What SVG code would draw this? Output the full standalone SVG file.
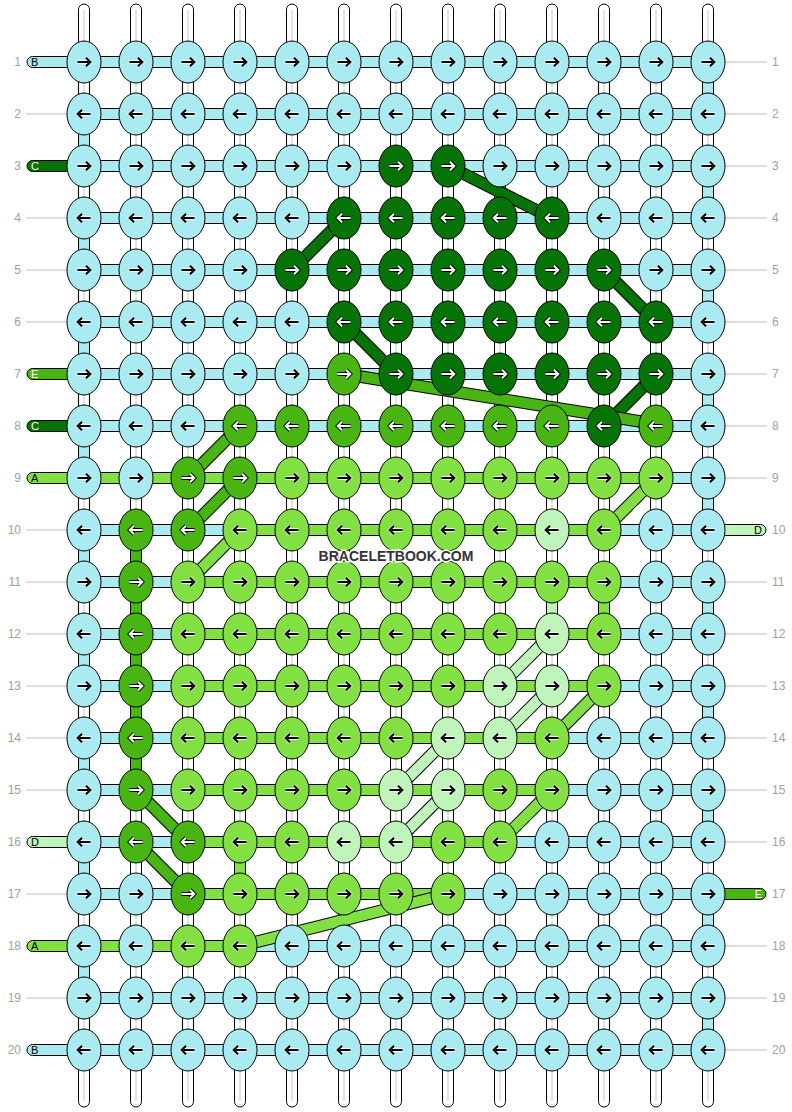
<svg xmlns="http://www.w3.org/2000/svg" xmlns:xlink="http://www.w3.org/1999/xlink" width="792" height="1112" viewBox="0 0 792 1112">
<style>
.sB{fill:#aaebf2;stroke:#000;stroke-width:1}
.sC{fill:#067306;stroke:#000;stroke-width:1}
.sE{fill:#48b512;stroke:#000;stroke-width:1}
.sA{fill:#83e043;stroke:#000;stroke-width:1}
.sD{fill:#bff5ba;stroke:#000;stroke-width:1}
.tube{fill:#fff;stroke:#000;stroke-width:1}
.rail{stroke:#c8c8c8;stroke-width:1;fill:none}
.o{stroke:#000;stroke-width:12.5}
.rC{stroke:#067306;stroke-width:10.5}
.rE{stroke:#48b512;stroke-width:10.5}
.rA{stroke:#83e043;stroke-width:10.5}
.rD{stroke:#bff5ba;stroke-width:10.5}
.hw{fill:none;stroke:#fff;stroke-width:3.4}
.ak{fill:none;stroke:#000;stroke-width:2.2}
.hk{fill:none;stroke:#000;stroke-width:3.8}
.aw{fill:none;stroke:#fff;stroke-width:2}
.gl{stroke:#bbb;stroke-width:1}
.num{font-family:"Liberation Sans",Arial,sans-serif;font-size:12px;fill:#a0a0a0}
.lt{font-family:"Liberation Sans",Arial,sans-serif;font-size:11px;fill:#000}
.ltw{font-family:"Liberation Sans",Arial,sans-serif;font-size:11px;fill:#fff}
.wm{font-family:"Liberation Sans",Arial,sans-serif;font-size:14px;font-weight:bold;fill:#333;stroke:#fff;stroke-width:3;paint-order:stroke}
</style>
<defs>
<path id="aR" d="M-6.5,0H5.8M2,-4.3L6.3,0L2,4.3"/>
<path id="aL" d="M6.5,0H-5.8M-2,-4.3L-6.3,0L-2,4.3"/>
<g id="BR"><ellipse class="sB" rx="17" ry="21"/><use href="#aR" class="hw"/><use href="#aR" class="ak"/></g>
<g id="BL"><ellipse class="sB" rx="17" ry="21"/><use href="#aL" class="hw"/><use href="#aL" class="ak"/></g>
<g id="AR"><ellipse class="sA" rx="17" ry="21"/><use href="#aR" class="hw"/><use href="#aR" class="ak"/></g>
<g id="AL"><ellipse class="sA" rx="17" ry="21"/><use href="#aL" class="hw"/><use href="#aL" class="ak"/></g>
<g id="DR"><ellipse class="sD" rx="17" ry="21"/><use href="#aR" class="hw"/><use href="#aR" class="ak"/></g>
<g id="DL"><ellipse class="sD" rx="17" ry="21"/><use href="#aL" class="hw"/><use href="#aL" class="ak"/></g>
<g id="CR"><ellipse class="sC" rx="17" ry="21"/><use href="#aR" class="hk"/><use href="#aR" class="aw"/></g>
<g id="CL"><ellipse class="sC" rx="17" ry="21"/><use href="#aL" class="hk"/><use href="#aL" class="aw"/></g>
<g id="ER"><ellipse class="sE" rx="17" ry="21"/><use href="#aR" class="hk"/><use href="#aR" class="aw"/></g>
<g id="EL"><ellipse class="sE" rx="17" ry="21"/><use href="#aL" class="hk"/><use href="#aL" class="aw"/></g>
</defs>
<rect width="792" height="1112" fill="#fff"/>
<g id="connectors">
<g id="tubes">
<rect class="tube" x="78.5" y="4" width="11" height="1103" rx="5.5"/><line class="rail" x1="84" y1="10" x2="84" y2="1101"/>
<rect class="tube" x="130.5" y="4" width="11" height="1103" rx="5.5"/><line class="rail" x1="136" y1="10" x2="136" y2="1101"/>
<rect class="tube" x="182.5" y="4" width="11" height="1103" rx="5.5"/><line class="rail" x1="188" y1="10" x2="188" y2="1101"/>
<rect class="tube" x="234.5" y="4" width="11" height="1103" rx="5.5"/><line class="rail" x1="240" y1="10" x2="240" y2="1101"/>
<rect class="tube" x="286.5" y="4" width="11" height="1103" rx="5.5"/><line class="rail" x1="292" y1="10" x2="292" y2="1101"/>
<rect class="tube" x="338.5" y="4" width="11" height="1103" rx="5.5"/><line class="rail" x1="344" y1="10" x2="344" y2="1101"/>
<rect class="tube" x="390.5" y="4" width="11" height="1103" rx="5.5"/><line class="rail" x1="396" y1="10" x2="396" y2="1101"/>
<rect class="tube" x="442.5" y="4" width="11" height="1103" rx="5.5"/><line class="rail" x1="448" y1="10" x2="448" y2="1101"/>
<rect class="tube" x="494.5" y="4" width="11" height="1103" rx="5.5"/><line class="rail" x1="500" y1="10" x2="500" y2="1101"/>
<rect class="tube" x="546.5" y="4" width="11" height="1103" rx="5.5"/><line class="rail" x1="552" y1="10" x2="552" y2="1101"/>
<rect class="tube" x="598.5" y="4" width="11" height="1103" rx="5.5"/><line class="rail" x1="604" y1="10" x2="604" y2="1101"/>
<rect class="tube" x="650.5" y="4" width="11" height="1103" rx="5.5"/><line class="rail" x1="656" y1="10" x2="656" y2="1101"/>
<rect class="tube" x="702.5" y="4" width="11" height="1103" rx="5.5"/><line class="rail" x1="708" y1="10" x2="708" y2="1101"/>
</g>
<g id="verticals">
<rect class="sB" x="78.5" y="114" width="11" height="52"/>
<rect class="sB" x="78.5" y="218" width="11" height="52"/>
<rect class="sB" x="78.5" y="322" width="11" height="52"/>
<rect class="sB" x="78.5" y="426" width="11" height="52"/>
<rect class="sB" x="78.5" y="530" width="11" height="52"/>
<rect class="sB" x="78.5" y="634" width="11" height="52"/>
<rect class="sB" x="78.5" y="738" width="11" height="52"/>
<rect class="sB" x="78.5" y="842" width="11" height="52"/>
<rect class="sB" x="78.5" y="946" width="11" height="52"/>
<rect class="sB" x="702.5" y="62" width="11" height="52"/>
<rect class="sB" x="702.5" y="166" width="11" height="52"/>
<rect class="sB" x="702.5" y="270" width="11" height="52"/>
<rect class="sB" x="702.5" y="374" width="11" height="52"/>
<rect class="sB" x="702.5" y="478" width="11" height="52"/>
<rect class="sB" x="702.5" y="582" width="11" height="52"/>
<rect class="sB" x="702.5" y="686" width="11" height="52"/>
<rect class="sB" x="702.5" y="790" width="11" height="52"/>
<rect class="sB" x="702.5" y="894" width="11" height="52"/>
<rect class="sB" x="702.5" y="998" width="11" height="52"/>
<rect class="sE" x="130.5" y="530" width="11" height="260"/>
<rect class="sD" x="546.5" y="582" width="11" height="52"/>
<rect class="sA" x="598.5" y="582" width="11" height="52"/>
<rect class="sA" x="234.5" y="842" width="11" height="52"/>
</g>
<g id="inputs">
<rect class="sB" x="27" y="56.5" width="60" height="11" rx="5.5"/>
<rect class="sC" x="27" y="160.5" width="60" height="11" rx="5.5"/>
<rect class="sE" x="27" y="368.5" width="60" height="11" rx="5.5"/>
<rect class="sC" x="27" y="420.5" width="60" height="11" rx="5.5"/>
<rect class="sA" x="27" y="472.5" width="60" height="11" rx="5.5"/>
<rect class="sD" x="27" y="836.5" width="60" height="11" rx="5.5"/>
<rect class="sA" x="27" y="940.5" width="60" height="11" rx="5.5"/>
<rect class="sB" x="27" y="1044.5" width="60" height="11" rx="5.5"/>
<rect class="sD" x="705" y="524.5" width="61" height="11" rx="5.5"/>
<rect class="sE" x="705" y="888.5" width="61" height="11" rx="5.5"/>
</g>
<g id="rows">
<rect class="sB" x="84" y="56.5" width="624" height="11"/>
<rect class="sB" x="84" y="108.5" width="624" height="11"/>
<rect class="sB" x="84" y="160.5" width="624" height="11"/>
<rect class="sB" x="84" y="212.5" width="624" height="11"/>
<rect class="sB" x="84" y="264.5" width="624" height="11"/>
<rect class="sB" x="84" y="316.5" width="624" height="11"/>
<rect class="sB" x="84" y="368.5" width="624" height="11"/>
<rect class="sB" x="84" y="420.5" width="624" height="11"/>
<rect class="sB" x="84" y="472.5" width="624" height="11"/>
<rect class="sB" x="84" y="524.5" width="624" height="11"/>
<rect class="sB" x="84" y="576.5" width="624" height="11"/>
<rect class="sB" x="84" y="628.5" width="624" height="11"/>
<rect class="sB" x="84" y="680.5" width="624" height="11"/>
<rect class="sB" x="84" y="732.5" width="624" height="11"/>
<rect class="sB" x="84" y="784.5" width="624" height="11"/>
<rect class="sB" x="84" y="836.5" width="624" height="11"/>
<rect class="sB" x="84" y="888.5" width="624" height="11"/>
<rect class="sB" x="84" y="940.5" width="624" height="11"/>
<rect class="sB" x="84" y="992.5" width="624" height="11"/>
<rect class="sB" x="84" y="1044.5" width="624" height="11"/>
<rect class="sA" x="84" y="472.5" width="572" height="11"/>
<rect class="sA" x="240" y="524.5" width="364" height="11"/>
<rect class="sA" x="188" y="576.5" width="416" height="11"/>
<rect class="sA" x="188" y="628.5" width="416" height="11"/>
<rect class="sA" x="188" y="680.5" width="416" height="11"/>
<rect class="sA" x="188" y="732.5" width="364" height="11"/>
<rect class="sA" x="188" y="784.5" width="364" height="11"/>
<rect class="sA" x="188" y="836.5" width="312" height="11"/>
<rect class="sA" x="188" y="888.5" width="260" height="11"/>
<rect class="sA" x="84" y="940.5" width="156" height="11"/>
</g>
<g id="ribbons">
<line class="o" x1="448" y1="166" x2="552" y2="218"/><line class="rC" x1="448" y1="166" x2="552" y2="218"/>
<line class="o" x1="344" y1="218" x2="292" y2="270"/><line class="rC" x1="344" y1="218" x2="292" y2="270"/>
<line class="o" x1="604" y1="270" x2="656" y2="322"/><line class="rC" x1="604" y1="270" x2="656" y2="322"/>
<line class="o" x1="344" y1="322" x2="396" y2="374"/><line class="rC" x1="344" y1="322" x2="396" y2="374"/>
<line class="o" x1="656" y1="374" x2="604" y2="426"/><line class="rC" x1="656" y1="374" x2="604" y2="426"/>
<line class="o" x1="344" y1="374" x2="656" y2="424"/><line class="rE" x1="344" y1="374" x2="656" y2="424"/>
<line class="o" x1="240" y1="426" x2="188" y2="478"/><line class="rE" x1="240" y1="426" x2="188" y2="478"/>
<line class="o" x1="240" y1="478" x2="188" y2="530"/><line class="rE" x1="240" y1="478" x2="188" y2="530"/>
<line class="o" x1="240" y1="530" x2="188" y2="582"/><line class="rA" x1="240" y1="530" x2="188" y2="582"/>
<line class="o" x1="656" y1="478" x2="604" y2="530"/><line class="rA" x1="656" y1="478" x2="604" y2="530"/>
<line class="o" x1="552" y1="634" x2="500" y2="686"/><line class="rD" x1="552" y1="634" x2="500" y2="686"/>
<line class="o" x1="552" y1="686" x2="500" y2="738"/><line class="rD" x1="552" y1="686" x2="500" y2="738"/>
<line class="o" x1="604" y1="686" x2="552" y2="738"/><line class="rA" x1="604" y1="686" x2="552" y2="738"/>
<line class="o" x1="448" y1="738" x2="396" y2="790"/><line class="rD" x1="448" y1="738" x2="396" y2="790"/>
<line class="o" x1="448" y1="790" x2="396" y2="842"/><line class="rD" x1="448" y1="790" x2="396" y2="842"/>
<line class="o" x1="552" y1="790" x2="500" y2="842"/><line class="rA" x1="552" y1="790" x2="500" y2="842"/>
<line class="o" x1="136" y1="790" x2="188" y2="842"/><line class="rE" x1="136" y1="790" x2="188" y2="842"/>
<line class="o" x1="136" y1="842" x2="188" y2="894"/><line class="rE" x1="136" y1="842" x2="188" y2="894"/>
<line class="o" x1="240" y1="946" x2="448" y2="894"/><line class="rA" x1="240" y1="946" x2="448" y2="894"/>
</g>
</g>
<g id="labels">
<line class="gl" x1="26" y1="114" x2="67" y2="114"/>
<line class="gl" x1="26" y1="218" x2="67" y2="218"/>
<line class="gl" x1="26" y1="270" x2="67" y2="270"/>
<line class="gl" x1="26" y1="322" x2="67" y2="322"/>
<line class="gl" x1="26" y1="530" x2="67" y2="530"/>
<line class="gl" x1="26" y1="582" x2="67" y2="582"/>
<line class="gl" x1="26" y1="634" x2="67" y2="634"/>
<line class="gl" x1="26" y1="686" x2="67" y2="686"/>
<line class="gl" x1="26" y1="738" x2="67" y2="738"/>
<line class="gl" x1="26" y1="790" x2="67" y2="790"/>
<line class="gl" x1="26" y1="894" x2="67" y2="894"/>
<line class="gl" x1="26" y1="998" x2="67" y2="998"/>
<line class="gl" x1="725" y1="62" x2="767" y2="62"/>
<line class="gl" x1="725" y1="114" x2="767" y2="114"/>
<line class="gl" x1="725" y1="166" x2="767" y2="166"/>
<line class="gl" x1="725" y1="218" x2="767" y2="218"/>
<line class="gl" x1="725" y1="270" x2="767" y2="270"/>
<line class="gl" x1="725" y1="322" x2="767" y2="322"/>
<line class="gl" x1="725" y1="374" x2="767" y2="374"/>
<line class="gl" x1="725" y1="426" x2="767" y2="426"/>
<line class="gl" x1="725" y1="478" x2="767" y2="478"/>
<line class="gl" x1="725" y1="582" x2="767" y2="582"/>
<line class="gl" x1="725" y1="634" x2="767" y2="634"/>
<line class="gl" x1="725" y1="686" x2="767" y2="686"/>
<line class="gl" x1="725" y1="738" x2="767" y2="738"/>
<line class="gl" x1="725" y1="790" x2="767" y2="790"/>
<line class="gl" x1="725" y1="842" x2="767" y2="842"/>
<line class="gl" x1="725" y1="946" x2="767" y2="946"/>
<line class="gl" x1="725" y1="998" x2="767" y2="998"/>
<line class="gl" x1="725" y1="1050" x2="767" y2="1050"/>
<text class="lt" x="31" y="66">B</text>
<text class="ltw" x="31" y="170">C</text>
<text class="ltw" x="31" y="378">E</text>
<text class="ltw" x="31" y="430">C</text>
<text class="lt" x="31" y="482">A</text>
<text class="lt" x="31" y="846">D</text>
<text class="lt" x="31" y="950">A</text>
<text class="lt" x="31" y="1054">B</text>
<text class="lt" x="762" y="534" text-anchor="end">D</text>
<text class="ltw" x="762" y="898" text-anchor="end">E</text>
<g class="num" text-anchor="end">
<text x="21" y="66">1</text><text x="21" y="118">2</text><text x="21" y="170">3</text><text x="21" y="222">4</text><text x="21" y="274">5</text><text x="21" y="326">6</text><text x="21" y="378">7</text><text x="21" y="430">8</text><text x="21" y="482">9</text><text x="21" y="534">10</text><text x="21" y="586">11</text><text x="21" y="638">12</text><text x="21" y="690">13</text><text x="21" y="742">14</text><text x="21" y="794">15</text><text x="21" y="846">16</text><text x="21" y="898">17</text><text x="21" y="950">18</text><text x="21" y="1002">19</text><text x="21" y="1054">20</text>
</g>
<g class="num">
<text x="772" y="66">1</text><text x="772" y="118">2</text><text x="772" y="170">3</text><text x="772" y="222">4</text><text x="772" y="274">5</text><text x="772" y="326">6</text><text x="772" y="378">7</text><text x="772" y="430">8</text><text x="772" y="482">9</text><text x="772" y="534">10</text><text x="772" y="586">11</text><text x="772" y="638">12</text><text x="772" y="690">13</text><text x="772" y="742">14</text><text x="772" y="794">15</text><text x="772" y="846">16</text><text x="772" y="898">17</text><text x="772" y="950">18</text><text x="772" y="1002">19</text><text x="772" y="1054">20</text>
</g>
</g>
<g id="knots">
<g id="k1_1"><use href="#BR" x="84" y="62"/></g><g id="k1_2"><use href="#BR" x="136" y="62"/></g><g id="k1_3"><use href="#BR" x="188" y="62"/></g><g id="k1_4"><use href="#BR" x="240" y="62"/></g><g id="k1_5"><use href="#BR" x="292" y="62"/></g><g id="k1_6"><use href="#BR" x="344" y="62"/></g><g id="k1_7"><use href="#BR" x="396" y="62"/></g><g id="k1_8"><use href="#BR" x="448" y="62"/></g><g id="k1_9"><use href="#BR" x="500" y="62"/></g><g id="k1_10"><use href="#BR" x="552" y="62"/></g><g id="k1_11"><use href="#BR" x="604" y="62"/></g><g id="k1_12"><use href="#BR" x="656" y="62"/></g><g id="k1_13"><use href="#BR" x="708" y="62"/></g>
<g id="k2_1"><use href="#BL" x="84" y="114"/></g><g id="k2_2"><use href="#BL" x="136" y="114"/></g><g id="k2_3"><use href="#BL" x="188" y="114"/></g><g id="k2_4"><use href="#BL" x="240" y="114"/></g><g id="k2_5"><use href="#BL" x="292" y="114"/></g><g id="k2_6"><use href="#BL" x="344" y="114"/></g><g id="k2_7"><use href="#BL" x="396" y="114"/></g><g id="k2_8"><use href="#BL" x="448" y="114"/></g><g id="k2_9"><use href="#BL" x="500" y="114"/></g><g id="k2_10"><use href="#BL" x="552" y="114"/></g><g id="k2_11"><use href="#BL" x="604" y="114"/></g><g id="k2_12"><use href="#BL" x="656" y="114"/></g><g id="k2_13"><use href="#BL" x="708" y="114"/></g>
<g id="k3_1"><use href="#BR" x="84" y="166"/></g><g id="k3_2"><use href="#BR" x="136" y="166"/></g><g id="k3_3"><use href="#BR" x="188" y="166"/></g><g id="k3_4"><use href="#BR" x="240" y="166"/></g><g id="k3_5"><use href="#BR" x="292" y="166"/></g><g id="k3_6"><use href="#BR" x="344" y="166"/></g><g id="k3_7"><use href="#CR" x="396" y="166"/></g><g id="k3_8"><use href="#CR" x="448" y="166"/></g><g id="k3_9"><use href="#BR" x="500" y="166"/></g><g id="k3_10"><use href="#BR" x="552" y="166"/></g><g id="k3_11"><use href="#BR" x="604" y="166"/></g><g id="k3_12"><use href="#BR" x="656" y="166"/></g><g id="k3_13"><use href="#BR" x="708" y="166"/></g>
<g id="k4_1"><use href="#BL" x="84" y="218"/></g><g id="k4_2"><use href="#BL" x="136" y="218"/></g><g id="k4_3"><use href="#BL" x="188" y="218"/></g><g id="k4_4"><use href="#BL" x="240" y="218"/></g><g id="k4_5"><use href="#BL" x="292" y="218"/></g><g id="k4_6"><use href="#CL" x="344" y="218"/></g><g id="k4_7"><use href="#CL" x="396" y="218"/></g><g id="k4_8"><use href="#CL" x="448" y="218"/></g><g id="k4_9"><use href="#CL" x="500" y="218"/></g><g id="k4_10"><use href="#CL" x="552" y="218"/></g><g id="k4_11"><use href="#BL" x="604" y="218"/></g><g id="k4_12"><use href="#BL" x="656" y="218"/></g><g id="k4_13"><use href="#BL" x="708" y="218"/></g>
<g id="k5_1"><use href="#BR" x="84" y="270"/></g><g id="k5_2"><use href="#BR" x="136" y="270"/></g><g id="k5_3"><use href="#BR" x="188" y="270"/></g><g id="k5_4"><use href="#BR" x="240" y="270"/></g><g id="k5_5"><use href="#CR" x="292" y="270"/></g><g id="k5_6"><use href="#CR" x="344" y="270"/></g><g id="k5_7"><use href="#CR" x="396" y="270"/></g><g id="k5_8"><use href="#CR" x="448" y="270"/></g><g id="k5_9"><use href="#CR" x="500" y="270"/></g><g id="k5_10"><use href="#CR" x="552" y="270"/></g><g id="k5_11"><use href="#CR" x="604" y="270"/></g><g id="k5_12"><use href="#BR" x="656" y="270"/></g><g id="k5_13"><use href="#BR" x="708" y="270"/></g>
<g id="k6_1"><use href="#BL" x="84" y="322"/></g><g id="k6_2"><use href="#BL" x="136" y="322"/></g><g id="k6_3"><use href="#BL" x="188" y="322"/></g><g id="k6_4"><use href="#BL" x="240" y="322"/></g><g id="k6_5"><use href="#BL" x="292" y="322"/></g><g id="k6_6"><use href="#CL" x="344" y="322"/></g><g id="k6_7"><use href="#CL" x="396" y="322"/></g><g id="k6_8"><use href="#CL" x="448" y="322"/></g><g id="k6_9"><use href="#CL" x="500" y="322"/></g><g id="k6_10"><use href="#CL" x="552" y="322"/></g><g id="k6_11"><use href="#CL" x="604" y="322"/></g><g id="k6_12"><use href="#CL" x="656" y="322"/></g><g id="k6_13"><use href="#BL" x="708" y="322"/></g>
<g id="k7_1"><use href="#BR" x="84" y="374"/></g><g id="k7_2"><use href="#BR" x="136" y="374"/></g><g id="k7_3"><use href="#BR" x="188" y="374"/></g><g id="k7_4"><use href="#BR" x="240" y="374"/></g><g id="k7_5"><use href="#BR" x="292" y="374"/></g><g id="k7_6"><use href="#ER" x="344" y="374"/></g><g id="k7_7"><use href="#CR" x="396" y="374"/></g><g id="k7_8"><use href="#CR" x="448" y="374"/></g><g id="k7_9"><use href="#CR" x="500" y="374"/></g><g id="k7_10"><use href="#CR" x="552" y="374"/></g><g id="k7_11"><use href="#CR" x="604" y="374"/></g><g id="k7_12"><use href="#CR" x="656" y="374"/></g><g id="k7_13"><use href="#BR" x="708" y="374"/></g>
<g id="k8_1"><use href="#BL" x="84" y="426"/></g><g id="k8_2"><use href="#BL" x="136" y="426"/></g><g id="k8_3"><use href="#BL" x="188" y="426"/></g><g id="k8_4"><use href="#EL" x="240" y="426"/></g><g id="k8_5"><use href="#EL" x="292" y="426"/></g><g id="k8_6"><use href="#EL" x="344" y="426"/></g><g id="k8_7"><use href="#EL" x="396" y="426"/></g><g id="k8_8"><use href="#EL" x="448" y="426"/></g><g id="k8_9"><use href="#EL" x="500" y="426"/></g><g id="k8_10"><use href="#EL" x="552" y="426"/></g><g id="k8_11"><use href="#CL" x="604" y="426"/></g><g id="k8_12"><use href="#EL" x="656" y="426"/></g><g id="k8_13"><use href="#BL" x="708" y="426"/></g>
<g id="k9_1"><use href="#BR" x="84" y="478"/></g><g id="k9_2"><use href="#BR" x="136" y="478"/></g><g id="k9_3"><use href="#ER" x="188" y="478"/></g><g id="k9_4"><use href="#ER" x="240" y="478"/></g><g id="k9_5"><use href="#AR" x="292" y="478"/></g><g id="k9_6"><use href="#AR" x="344" y="478"/></g><g id="k9_7"><use href="#AR" x="396" y="478"/></g><g id="k9_8"><use href="#AR" x="448" y="478"/></g><g id="k9_9"><use href="#AR" x="500" y="478"/></g><g id="k9_10"><use href="#AR" x="552" y="478"/></g><g id="k9_11"><use href="#AR" x="604" y="478"/></g><g id="k9_12"><use href="#AR" x="656" y="478"/></g><g id="k9_13"><use href="#BR" x="708" y="478"/></g>
<g id="k10_1"><use href="#BL" x="84" y="530"/></g><g id="k10_2"><use href="#EL" x="136" y="530"/></g><g id="k10_3"><use href="#EL" x="188" y="530"/></g><g id="k10_4"><use href="#AL" x="240" y="530"/></g><g id="k10_5"><use href="#AL" x="292" y="530"/></g><g id="k10_6"><use href="#AL" x="344" y="530"/></g><g id="k10_7"><use href="#AL" x="396" y="530"/></g><g id="k10_8"><use href="#AL" x="448" y="530"/></g><g id="k10_9"><use href="#AL" x="500" y="530"/></g><g id="k10_10"><use href="#DL" x="552" y="530"/></g><g id="k10_11"><use href="#AL" x="604" y="530"/></g><g id="k10_12"><use href="#BL" x="656" y="530"/></g><g id="k10_13"><use href="#BL" x="708" y="530"/></g>
<g id="k11_1"><use href="#BR" x="84" y="582"/></g><g id="k11_2"><use href="#ER" x="136" y="582"/></g><g id="k11_3"><use href="#AR" x="188" y="582"/></g><g id="k11_4"><use href="#AR" x="240" y="582"/></g><g id="k11_5"><use href="#AR" x="292" y="582"/></g><g id="k11_6"><use href="#AR" x="344" y="582"/></g><g id="k11_7"><use href="#AR" x="396" y="582"/></g><g id="k11_8"><use href="#AR" x="448" y="582"/></g><g id="k11_9"><use href="#AR" x="500" y="582"/></g><g id="k11_10"><use href="#AR" x="552" y="582"/></g><g id="k11_11"><use href="#AR" x="604" y="582"/></g><g id="k11_12"><use href="#BR" x="656" y="582"/></g><g id="k11_13"><use href="#BR" x="708" y="582"/></g>
<g id="k12_1"><use href="#BL" x="84" y="634"/></g><g id="k12_2"><use href="#EL" x="136" y="634"/></g><g id="k12_3"><use href="#AL" x="188" y="634"/></g><g id="k12_4"><use href="#AL" x="240" y="634"/></g><g id="k12_5"><use href="#AL" x="292" y="634"/></g><g id="k12_6"><use href="#AL" x="344" y="634"/></g><g id="k12_7"><use href="#AL" x="396" y="634"/></g><g id="k12_8"><use href="#AL" x="448" y="634"/></g><g id="k12_9"><use href="#AL" x="500" y="634"/></g><g id="k12_10"><use href="#DL" x="552" y="634"/></g><g id="k12_11"><use href="#AL" x="604" y="634"/></g><g id="k12_12"><use href="#BL" x="656" y="634"/></g><g id="k12_13"><use href="#BL" x="708" y="634"/></g>
<g id="k13_1"><use href="#BR" x="84" y="686"/></g><g id="k13_2"><use href="#ER" x="136" y="686"/></g><g id="k13_3"><use href="#AR" x="188" y="686"/></g><g id="k13_4"><use href="#AR" x="240" y="686"/></g><g id="k13_5"><use href="#AR" x="292" y="686"/></g><g id="k13_6"><use href="#AR" x="344" y="686"/></g><g id="k13_7"><use href="#AR" x="396" y="686"/></g><g id="k13_8"><use href="#AR" x="448" y="686"/></g><g id="k13_9"><use href="#DR" x="500" y="686"/></g><g id="k13_10"><use href="#DR" x="552" y="686"/></g><g id="k13_11"><use href="#AR" x="604" y="686"/></g><g id="k13_12"><use href="#BR" x="656" y="686"/></g><g id="k13_13"><use href="#BR" x="708" y="686"/></g>
<g id="k14_1"><use href="#BL" x="84" y="738"/></g><g id="k14_2"><use href="#EL" x="136" y="738"/></g><g id="k14_3"><use href="#AL" x="188" y="738"/></g><g id="k14_4"><use href="#AL" x="240" y="738"/></g><g id="k14_5"><use href="#AL" x="292" y="738"/></g><g id="k14_6"><use href="#AL" x="344" y="738"/></g><g id="k14_7"><use href="#AL" x="396" y="738"/></g><g id="k14_8"><use href="#DL" x="448" y="738"/></g><g id="k14_9"><use href="#DL" x="500" y="738"/></g><g id="k14_10"><use href="#AL" x="552" y="738"/></g><g id="k14_11"><use href="#BL" x="604" y="738"/></g><g id="k14_12"><use href="#BL" x="656" y="738"/></g><g id="k14_13"><use href="#BL" x="708" y="738"/></g>
<g id="k15_1"><use href="#BR" x="84" y="790"/></g><g id="k15_2"><use href="#ER" x="136" y="790"/></g><g id="k15_3"><use href="#AR" x="188" y="790"/></g><g id="k15_4"><use href="#AR" x="240" y="790"/></g><g id="k15_5"><use href="#AR" x="292" y="790"/></g><g id="k15_6"><use href="#AR" x="344" y="790"/></g><g id="k15_7"><use href="#DR" x="396" y="790"/></g><g id="k15_8"><use href="#DR" x="448" y="790"/></g><g id="k15_9"><use href="#AR" x="500" y="790"/></g><g id="k15_10"><use href="#AR" x="552" y="790"/></g><g id="k15_11"><use href="#BR" x="604" y="790"/></g><g id="k15_12"><use href="#BR" x="656" y="790"/></g><g id="k15_13"><use href="#BR" x="708" y="790"/></g>
<g id="k16_1"><use href="#BL" x="84" y="842"/></g><g id="k16_2"><use href="#EL" x="136" y="842"/></g><g id="k16_3"><use href="#EL" x="188" y="842"/></g><g id="k16_4"><use href="#AL" x="240" y="842"/></g><g id="k16_5"><use href="#AL" x="292" y="842"/></g><g id="k16_6"><use href="#DL" x="344" y="842"/></g><g id="k16_7"><use href="#DL" x="396" y="842"/></g><g id="k16_8"><use href="#AL" x="448" y="842"/></g><g id="k16_9"><use href="#AL" x="500" y="842"/></g><g id="k16_10"><use href="#BL" x="552" y="842"/></g><g id="k16_11"><use href="#BL" x="604" y="842"/></g><g id="k16_12"><use href="#BL" x="656" y="842"/></g><g id="k16_13"><use href="#BL" x="708" y="842"/></g>
<g id="k17_1"><use href="#BR" x="84" y="894"/></g><g id="k17_2"><use href="#BR" x="136" y="894"/></g><g id="k17_3"><use href="#ER" x="188" y="894"/></g><g id="k17_4"><use href="#AR" x="240" y="894"/></g><g id="k17_5"><use href="#AR" x="292" y="894"/></g><g id="k17_6"><use href="#AR" x="344" y="894"/></g><g id="k17_7"><use href="#AR" x="396" y="894"/></g><g id="k17_8"><use href="#AR" x="448" y="894"/></g><g id="k17_9"><use href="#BR" x="500" y="894"/></g><g id="k17_10"><use href="#BR" x="552" y="894"/></g><g id="k17_11"><use href="#BR" x="604" y="894"/></g><g id="k17_12"><use href="#BR" x="656" y="894"/></g><g id="k17_13"><use href="#BR" x="708" y="894"/></g>
<g id="k18_1"><use href="#BL" x="84" y="946"/></g><g id="k18_2"><use href="#BL" x="136" y="946"/></g><g id="k18_3"><use href="#AL" x="188" y="946"/></g><g id="k18_4"><use href="#AL" x="240" y="946"/></g><g id="k18_5"><use href="#BL" x="292" y="946"/></g><g id="k18_6"><use href="#BL" x="344" y="946"/></g><g id="k18_7"><use href="#BL" x="396" y="946"/></g><g id="k18_8"><use href="#BL" x="448" y="946"/></g><g id="k18_9"><use href="#BL" x="500" y="946"/></g><g id="k18_10"><use href="#BL" x="552" y="946"/></g><g id="k18_11"><use href="#BL" x="604" y="946"/></g><g id="k18_12"><use href="#BL" x="656" y="946"/></g><g id="k18_13"><use href="#BL" x="708" y="946"/></g>
<g id="k19_1"><use href="#BR" x="84" y="998"/></g><g id="k19_2"><use href="#BR" x="136" y="998"/></g><g id="k19_3"><use href="#BR" x="188" y="998"/></g><g id="k19_4"><use href="#BR" x="240" y="998"/></g><g id="k19_5"><use href="#BR" x="292" y="998"/></g><g id="k19_6"><use href="#BR" x="344" y="998"/></g><g id="k19_7"><use href="#BR" x="396" y="998"/></g><g id="k19_8"><use href="#BR" x="448" y="998"/></g><g id="k19_9"><use href="#BR" x="500" y="998"/></g><g id="k19_10"><use href="#BR" x="552" y="998"/></g><g id="k19_11"><use href="#BR" x="604" y="998"/></g><g id="k19_12"><use href="#BR" x="656" y="998"/></g><g id="k19_13"><use href="#BR" x="708" y="998"/></g>
<g id="k20_1"><use href="#BL" x="84" y="1050"/></g><g id="k20_2"><use href="#BL" x="136" y="1050"/></g><g id="k20_3"><use href="#BL" x="188" y="1050"/></g><g id="k20_4"><use href="#BL" x="240" y="1050"/></g><g id="k20_5"><use href="#BL" x="292" y="1050"/></g><g id="k20_6"><use href="#BL" x="344" y="1050"/></g><g id="k20_7"><use href="#BL" x="396" y="1050"/></g><g id="k20_8"><use href="#BL" x="448" y="1050"/></g><g id="k20_9"><use href="#BL" x="500" y="1050"/></g><g id="k20_10"><use href="#BL" x="552" y="1050"/></g><g id="k20_11"><use href="#BL" x="604" y="1050"/></g><g id="k20_12"><use href="#BL" x="656" y="1050"/></g><g id="k20_13"><use href="#BL" x="708" y="1050"/></g>
</g>
<text class="wm" x="396" y="561" text-anchor="middle">BRACELETBOOK.COM</text>
</svg>
